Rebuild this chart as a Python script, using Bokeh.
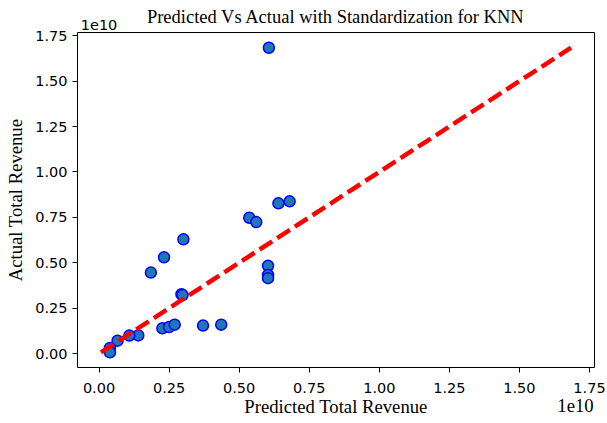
from bokeh.plotting import figure
from bokeh.models import FixedTicker, CustomJSTickFormatter, Range1d, LinearAxis
from bokeh.embed import file_html
from bokeh.resources import INLINE

# Predicted (x) and actual (y) total revenue
predicted = [6.06e9, 6.40e9, 6.80e9, 5.36e9, 5.61e9, 3.01e9, 2.32e9, 1.85e9,
             6.03e9, 6.03e9, 6.03e9, 2.94e9, 2.98e9, 2.26e9, 2.50e9, 2.70e9,
             3.71e9, 4.36e9, 1.40e9, 1.08e9, 0.66e9, 0.39e9, 0.39e9]
actual = [16.84e9, 8.27e9, 8.38e9, 7.48e9, 7.24e9, 6.29e9, 5.30e9, 4.46e9,
          4.83e9, 4.33e9, 4.15e9, 3.27e9, 3.22e9, 1.39e9, 1.46e9, 1.59e9,
          1.54e9, 1.59e9, 1.00e9, 0.99e9, 0.71e9, 0.31e9, 0.07e9]
line_ends = [min(actual), max(actual)]
tick_values = [0, 0.25e10, 0.5e10, 0.75e10, 1.0e10, 1.25e10, 1.5e10, 1.75e10]
title_text = "Predicted Vs Actual with Standardization for KNN"
x_label = "Predicted Total Revenue"
y_label = "Actual Total Revenue"
offset_text = "1e10"

lo = line_ends[0] - 0.05 * (line_ends[1] - line_ends[0])
hi = line_ends[1] + 0.05 * (line_ends[1] - line_ends[0])

SERIF = "Liberation Serif"
SANS = "DejaVu Sans"

p = figure(width=607, height=423, output_backend="svg", toolbar_location=None, title=None,
           x_range=Range1d(lo, hi), y_range=Range1d(lo, hi),
           min_border_left=77, min_border_right=13, min_border_top=32, min_border_bottom=56)
p.background_fill_color = "white"
p.border_fill_color = "white"
p.outline_line_color = "black"
p.outline_line_width = 1
p.grid.visible = False

fmt = CustomJSTickFormatter(code="return (tick/1e10).toFixed(2);")
for ax in (p.xaxis, p.yaxis):
    ax.ticker = FixedTicker(ticks=tick_values)
    ax.formatter = fmt
    ax.major_label_text_font = SANS
    ax.major_label_text_font_size = "14.5px"
    ax.major_label_text_color = "black"
    ax.axis_line_color = None
    ax.major_tick_line_color = "black"
    ax.major_tick_out = 5
    ax.major_tick_in = 0
    ax.minor_tick_line_color = None
p.xaxis.major_label_standoff = 10
p.yaxis.axis_label = y_label
p.yaxis.axis_label_text_font = SERIF
p.yaxis.axis_label_text_font_style = "normal"
p.yaxis.axis_label_text_font_size = "18.7px"
p.yaxis.axis_label_text_color = "black"
p.yaxis.axis_label_standoff = 6

const_fmt = CustomJSTickFormatter(args=dict(t=offset_text), code="return t;")

# top: offset text of the y axis, with the chart title on the same band
top_axis = LinearAxis(ticker=FixedTicker(ticks=[0]), formatter=const_fmt,
                      axis_line_color=None, major_tick_line_color=None, minor_tick_line_color=None,
                      major_tick_out=0, major_tick_in=0, major_label_standoff=3,
                      major_label_text_font=SANS, major_label_text_font_size="14.5px",
                      major_label_text_color="black",
                      axis_label=title_text, axis_label_text_font=SERIF,
                      axis_label_text_font_style="normal", axis_label_text_font_size="18.5px",
                      axis_label_text_color="black", axis_label_standoff=-10)
p.add_layout(top_axis, "above")

# bottom: x axis label with the offset text of the x axis on the same line
bottom_axis = LinearAxis(ticker=FixedTicker(ticks=[1.70e10]), formatter=const_fmt,
                         axis_line_color=None, major_tick_line_color=None, minor_tick_line_color=None,
                         major_tick_out=0, major_tick_in=0, major_label_standoff=3,
                         major_label_text_font=SERIF, major_label_text_font_size="18.7px",
                         major_label_text_color="black",
                         axis_label=x_label, axis_label_text_font=SERIF,
                         axis_label_text_font_style="normal", axis_label_text_font_size="18.7px",
                         axis_label_text_color="black", axis_label_standoff=-19)
p.add_layout(bottom_axis, "below")

p.scatter(predicted, actual, size=11, fill_color="#1f77b4", line_color="blue", line_width=1.5)
p.line(line_ends, line_ends, line_color="red", line_width=4.5, line_dash="15 6")

open("out.html", "w").write(file_html(p, INLINE))
